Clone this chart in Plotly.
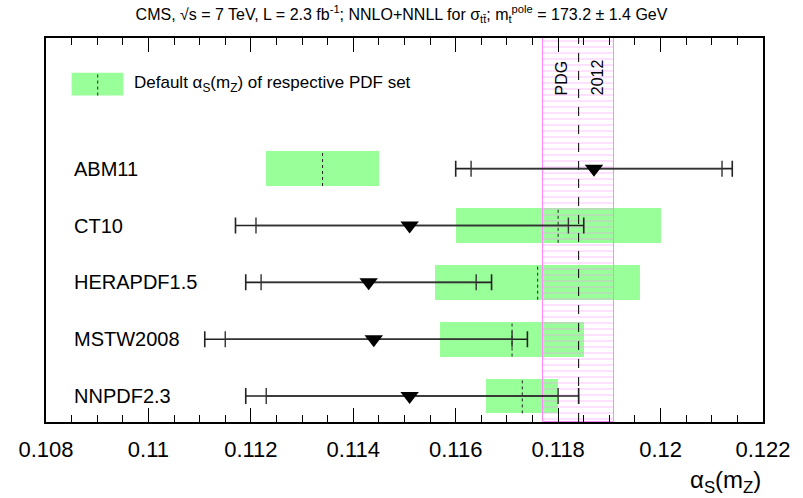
import plotly.graph_objects as go

# ---------------- data ----------------
pdf_names = ["ABM11", "CT10", "HERAPDF1.5", "MSTW2008", "NNPDF2.3"]
default_alpha = [0.1134, 0.1180, 0.1176, 0.1171, 0.1173]
default_unc = [0.0011, 0.0020, 0.0020, 0.0014, 0.0007]
measured = [0.1187, 0.1151, 0.1143, 0.1144, 0.1151]
outer_lo = [0.1160, 0.1117, 0.1119, 0.1111, 0.1119]
outer_hi = [0.1214, 0.1185, 0.1167, 0.1174, 0.1184]
inner_lo = [0.1163, 0.1121, 0.1122, 0.1115, 0.1123]
inner_hi = [0.1212, 0.1182, 0.1164, 0.1171, 0.1180]
pdg_alpha = 0.1184
pdg_unc = 0.0007
tick_vals = [0.108, 0.110, 0.112, 0.114, 0.116, 0.118, 0.120, 0.122]
tick_labels = ["0.108", "0.11", "0.112", "0.114", "0.116", "0.118", "0.12", "0.122"]

# ---------------- layout helpers ----------------
n = len(pdf_names)
rows = [n - i for i in range(n)]
Y0, Y1 = 0.544, 7.298
X0, X1 = 0.108, 0.122
FONT = "Liberation Sans, Arial, Helvetica, sans-serif"
GREEN = "#99ff99"
PINK = "#ff88ff"

fig = go.Figure()

# green default-alpha boxes
fig.add_trace(go.Bar(
    orientation="h", y=rows,
    x=[2 * u for u in default_unc],
    base=[d - u for d, u in zip(default_alpha, default_unc)],
    width=0.61, marker=dict(color=GREEN, line=dict(width=0)),
    showlegend=False, hoverinfo="skip"))

# dotted default lines
dx, dy = [], []
for d, r in zip(default_alpha, rows):
    dx += [d, d, None]
    dy += [r - 0.305, r + 0.305, None]
fig.add_trace(go.Scatter(x=dx, y=dy, mode="lines",
                         line=dict(color="#222222", width=1, dash="dot"),
                         showlegend=False, hoverinfo="skip"))

# PDG band (hatched)
fig.add_trace(go.Bar(
    x=[pdg_alpha], y=[Y1 - Y0], base=[Y0], width=[2 * pdg_unc],
    marker=dict(color="rgba(0,0,0,0)", line=dict(color=PINK, width=1),
                pattern=dict(shape="-", fgcolor=PINK, bgcolor="rgba(0,0,0,0)",
                             size=6, solidity=0.17, fillmode="overlay")),
    showlegend=False, hoverinfo="skip"))

# PDG central dashed line
fig.add_trace(go.Scatter(x=[pdg_alpha, pdg_alpha], y=[Y0, Y1], mode="lines",
                         line=dict(color="black", width=1, dash="dash"),
                         showlegend=False, hoverinfo="skip"))

# outer error bars
fig.add_trace(go.Scatter(
    x=measured, y=rows, mode="markers", marker=dict(size=1, color="rgba(0,0,0,0)"),
    error_x=dict(type="data", symmetric=False,
                 array=[h - m for h, m in zip(outer_hi, measured)],
                 arrayminus=[m - l for m, l in zip(measured, outer_lo)],
                 width=8, thickness=1.6, color="#222222"),
    showlegend=False, hoverinfo="skip"))
# inner error bars
fig.add_trace(go.Scatter(
    x=measured, y=rows, mode="markers", marker=dict(size=1, color="rgba(0,0,0,0)"),
    error_x=dict(type="data", symmetric=False,
                 array=[h - m for h, m in zip(inner_hi, measured)],
                 arrayminus=[m - l for m, l in zip(measured, inner_lo)],
                 width=8, thickness=1.4, color="#333333"),
    showlegend=False, hoverinfo="skip"))
# measured markers
fig.add_trace(go.Scatter(
    x=measured, y=rows, mode="markers",
    marker=dict(symbol="triangle-down", size=16, color="black"),
    showlegend=False, hoverinfo="skip"))

annotations = []
for name, r in zip(pdf_names, rows):
    annotations.append(dict(x=0.1085, y=r, xref="x", yref="y", text=name,
                            showarrow=False, xanchor="left", yanchor="middle",
                            font=dict(family=FONT, size=20, color="black")))

# legend
leg_y = 6.486
shapes = [
    dict(type="rect", xref="x", yref="y", x0=0.1085, x1=0.10951,
         y0=leg_y - 0.2, y1=leg_y + 0.2, fillcolor=GREEN, line=dict(width=0), layer="above"),
    dict(type="line", xref="x", yref="y", x0=0.10901, x1=0.10901,
         y0=leg_y - 0.2, y1=leg_y + 0.2, line=dict(color="#222222", width=1, dash="dot")),
]
annotations.append(dict(x=0.10968, y=leg_y, xref="x", yref="y",
                        text="Default α<sub>S</sub>(m<sub>Z</sub>) of respective PDF set",
                        showarrow=False, xanchor="left", yanchor="middle",
                        font=dict(family=FONT, size=17, color="black")))

# PDG 2012 labels
annotations.append(dict(x=0.11807, y=6.6, xref="x", yref="y", text="PDG", textangle=-90,
                        showarrow=False, font=dict(family=FONT, size=16, color="black")))
annotations.append(dict(x=0.11877, y=6.6, xref="x", yref="y", text="2012", textangle=-90,
                        showarrow=False, font=dict(family=FONT, size=16, color="black")))

# x-axis title
annotations.append(dict(x=1.0, y=-0.155, xref="paper", yref="paper",
                        text="α<sub>S</sub>(m<sub>Z</sub>)", showarrow=False,
                        xanchor="right", yanchor="middle",
                        font=dict(family=FONT, size=24, color="black")))

fig.update_layout(
    width=803, height=498,
    margin=dict(l=46, r=37, t=38, b=76),
    paper_bgcolor="white", plot_bgcolor="white",
    barmode="overlay", bargap=0,
    title=dict(text="CMS, √s = 7 TeV, L = 2.3 fb<sup>-1</sup>; NNLO+NNLL for σ<sub>tt̄</sub>; "
                    "m<sub>t</sub><sup>pole</sup> = 173.2 ± 1.4 GeV",
               x=0.5, xanchor="center", y=0.972, yanchor="middle",
               font=dict(family=FONT, size=16, color="black")),
    xaxis=dict(range=[X0, X1], tickvals=tick_vals, ticktext=tick_labels,
               ticks="inside", ticklen=14, tickwidth=1, tickcolor="black",
               ticklabelstandoff=7,
               minor=dict(dtick=0.0005, ticks="inside", ticklen=7, tickcolor="black", showgrid=False),
               showline=True, linewidth=2, linecolor="black", mirror="allticks",
               showgrid=False, zeroline=False,
               tickfont=dict(family=FONT, size=22, color="black")),
    yaxis=dict(range=[Y0, Y1], showticklabels=False, ticks="", showgrid=False,
               zeroline=False, showline=True, linewidth=2, linecolor="black", mirror=True),
    shapes=shapes, annotations=annotations,
)

fig.write_html("out.html")
